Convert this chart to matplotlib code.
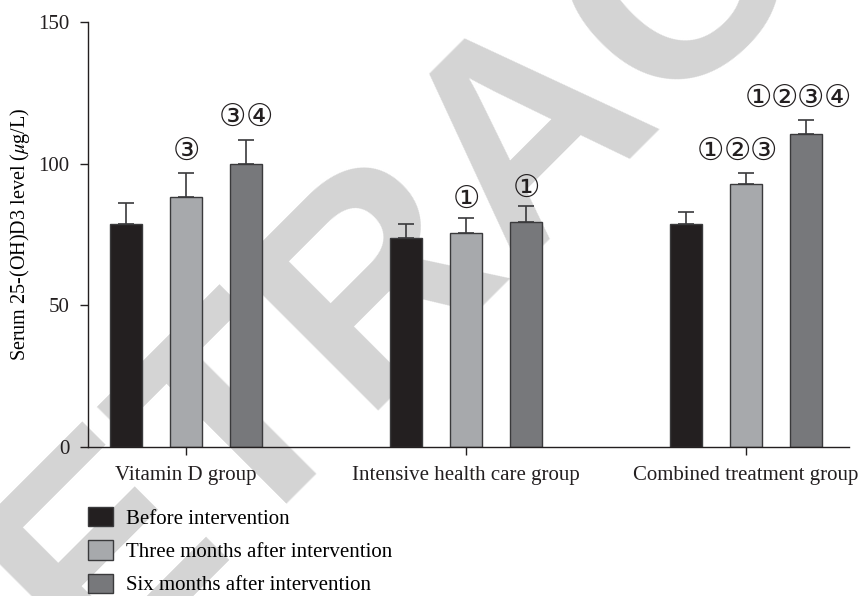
import matplotlib
matplotlib.use("Agg")
import matplotlib.pyplot as plt
import numpy as np
from matplotlib.patches import Patch

groups = ["Vitamin D group", "Intensive health care group", "Combined treatment group"]
series = ["Before intervention", "Three months after intervention", "Six months after intervention"]
before = [78.6, 73.9, 78.6]
before_err = [7.5, 4.9, 4.5]
three = [88.4, 75.4, 92.7]
three_err = [8.4, 5.3, 4.1]
six = [99.9, 79.3, 110.5]
six_err = [8.5, 5.6, 4.8]
marks_three = ["③", "①", "①②③"]
marks_six = ["③④", "①", "①②③④"]
yticks = [0, 50, 100, 150]

colors = ["#231f20", "#a7a9ac", "#77787b"]
edge = "#3a3a3c"
serif = ["Liberation Serif", "DejaVu Serif"]
circ = ["DejaVu Sans"]

plt.rcParams["mathtext.fontset"] = "stix"

W, H = 864, 596
fig = plt.figure(figsize=(W/100, H/100), dpi=100)
ax = fig.add_axes([88/W, 1-447/H, (849-88)/W, (447-22)/H])

# watermark
fig.text(-57/W, 1-827/H, "RETRACTED", fontsize=212, fontweight="bold",
         family=["Liberation Sans", "DejaVu Sans"], color="#d4d4d4",
         rotation=45, ha="left", va="baseline", rotation_mode="anchor", zorder=-10)
ax.set_facecolor("none")

x = np.arange(len(groups))
w = 32/280
off = 60/280
vals = [before, three, six]
errs = [before_err, three_err, six_err]
for i, (v, e) in enumerate(zip(vals, errs)):
    pos = x + (i-1)*off
    ax.bar(pos, v, width=w, color=colors[i], edgecolor=edge, linewidth=1.0, zorder=2,
           label=series[i])
    ax.errorbar(pos, v, yerr=[np.zeros(len(e)), e], fmt="none", ecolor=edge,
                elinewidth=1.2, capsize=6, capthick=1.2, zorder=3)

adv = 19.0  # points between circled marks
def put_marks(xc, ytop, s, dx_pt, dy_pt):
    n = len(s)
    for k, ch in enumerate(s):
        ax.annotate(ch, (xc, ytop), xytext=(dx_pt + (k-(n-1)/2)*adv, dy_pt),
                    textcoords="offset points", ha="center", va="center",
                    fontsize=22, family=circ, color="#231f20", zorder=4)

shift_three = [0, 0, -6.5]
shift_six = [0, 0, -6.0]
lift_three = [15.5, 13.5, 15.5]
lift_six = [16.5, 13.0, 15.5]
for j in range(len(groups)):
    put_marks(x[j], three[j]+three_err[j], marks_three[j], shift_three[j], lift_three[j])
    put_marks(x[j]+off, six[j]+six_err[j], marks_six[j], shift_six[j], lift_six[j])

ax.set_xlim(-0.35, 2.368)
ax.set_ylim(0, 150)
ax.set_yticks(yticks)
ax.set_yticklabels([str(t) for t in yticks], family=serif, fontsize=15)
ax.set_xticks(x)
ax.set_xticklabels(groups, family=serif, fontsize=15)
ax.spines["top"].set_visible(False)
ax.spines["right"].set_visible(False)
for s in ["left", "bottom"]:
    ax.spines[s].set_color("#231f20")
    ax.spines[s].set_linewidth(1.0)
ax.tick_params(axis="y", length=5.8, width=1.0, pad=7.5, colors="#231f20")
ax.tick_params(axis="x", length=5.5, width=1.0, pad=8, colors="#231f20")
ax.set_ylabel(r"Serum 25-(OH)D3 level ($\mu$g/L)", family=serif, fontsize=14.5, labelpad=4.5)

handles = [Patch(facecolor=colors[i], edgecolor=edge, linewidth=1.0) for i in range(3)]
leg = fig.legend(handles, series, loc="upper left", bbox_to_anchor=(88/W, 1-507/H),
                 frameon=False, prop={"family": serif, "size": 15},
                 handlelength=1.19, handleheight=1.06, handletextpad=0.62,
                 labelspacing=0.55, borderaxespad=0, borderpad=0)

fig.savefig("out.png", dpi=100)
